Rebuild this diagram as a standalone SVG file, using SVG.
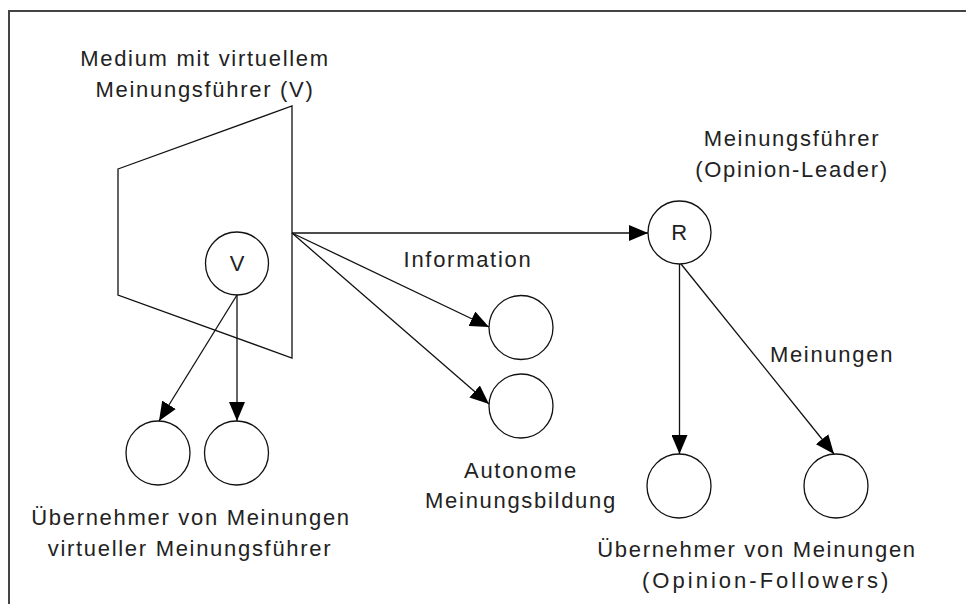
<svg xmlns="http://www.w3.org/2000/svg" width="966" height="604" viewBox="0 0 966 604">
<style>
  .t{font-family:"Liberation Sans",Arial,sans-serif;font-size:22px;letter-spacing:1.7px;fill:#222;text-anchor:middle}
  .n{fill:#fff;stroke:#111;stroke-width:1.3}
  .c{fill:none;stroke:#111;stroke-width:1.3}
</style>
<defs>
  <marker id="ah" markerWidth="19" markerHeight="16" refX="19" refY="8" orient="auto" markerUnits="userSpaceOnUse">
    <path d="M0,0 L19,8 L0,16 Z" fill="#000"/>
  </marker>
</defs>
<rect width="966" height="604" fill="#fff"/>
<path d="M9,604 V11 H966" fill="none" stroke="#444" stroke-width="2"/>

<g id="medium">
  <polygon class="n" points="118,169 292,106 292,358 118,295"/>
  <text class="t" x="205" y="66">Medium mit virtuellem</text>
  <text class="t" x="205" y="97">Meinungsführer (V)</text>
</g>
<g id="nodeV">
  <circle class="n" cx="237" cy="263.5" r="31.5"/>
  <text class="t" x="238" y="271">V</text>
</g>
<g id="nodeR">
  <circle class="n" cx="679.5" cy="232.5" r="31.5"/>
  <text class="t" x="680" y="240">R</text>
  <text class="t" x="792" y="146">Meinungsführer</text>
  <text class="t" x="792" y="177">(Opinion-Leader)</text>
</g>
<g id="vf1"><circle class="n" cx="158" cy="453" r="32"/></g>
<g id="vf2"><circle class="n" cx="236.5" cy="453" r="32"/></g>
<g id="vlabel">
  <text class="t" x="191" y="525">Übernehmer von Meinungen</text>
  <text class="t" x="190" y="556">virtueller Meinungsführer</text>
</g>
<g id="a1"><circle class="n" cx="521" cy="327.5" r="32"/></g>
<g id="a2"><circle class="n" cx="521" cy="406" r="32"/></g>
<g id="alabel">
  <text class="t" x="521" y="478">Autonome</text>
  <text class="t" x="521" y="508">Meinungsbildung</text>
</g>
<g id="f1"><circle class="n" cx="679" cy="486" r="32"/></g>
<g id="f2"><circle class="n" cx="836" cy="486" r="32"/></g>
<g id="flabel">
  <text class="t" x="757" y="557">Übernehmer von Meinungen</text>
  <text class="t" x="766" y="588" textLength="248" lengthAdjust="spacing">(Opinion-Followers)</text>
</g>

<g id="connectors">
  <line class="c" x1="292" y1="233" x2="648" y2="233" marker-end="url(#ah)"/>
  <line class="c" x1="292" y1="233" x2="489" y2="327" marker-end="url(#ah)"/>
  <line class="c" x1="292" y1="233" x2="489" y2="404" marker-end="url(#ah)"/>
  <line class="c" x1="237" y1="295" x2="237" y2="421" marker-end="url(#ah)"/>
  <line class="c" x1="237" y1="295" x2="159" y2="421" marker-end="url(#ah)"/>
  <line class="c" x1="679.5" y1="264" x2="679.5" y2="454" marker-end="url(#ah)"/>
  <line class="c" x1="681" y1="264" x2="834" y2="454" marker-end="url(#ah)"/>
  <text class="t" x="468" y="267">Information</text>
  <text class="t" x="832" y="362">Meinungen</text>
</g>
</svg>
